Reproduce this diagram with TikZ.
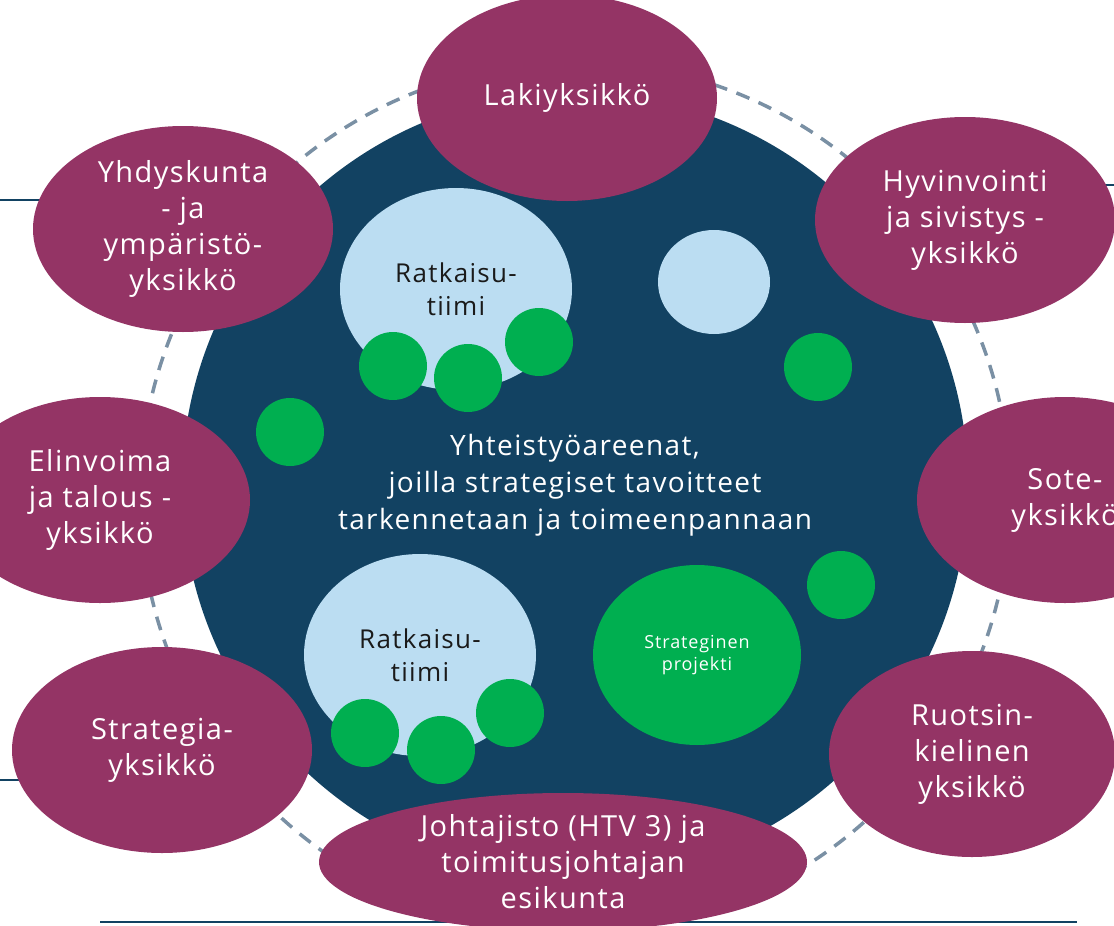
\documentclass[tikz,border=0pt]{standalone}
\usepackage{fontspec}
\setmainfont{Open Sans}[LetterSpace=5]
\usetikzlibrary{shapes.geometric,positioning,backgrounds}
\definecolor{kPlum}{HTML}{943465}
\definecolor{kNavy}{HTML}{124262}
\definecolor{kSky}{HTML}{BBDDF2}
\definecolor{kGreen}{HTML}{00AF50}
\definecolor{kRing}{HTML}{7A90A4}
\definecolor{kInk}{HTML}{1A1A1A}

\begin{document}
\begin{tikzpicture}[x=1pt,y=-1pt,
  unit/.style={ellipse,fill=kPlum,text=white,align=center,inner sep=0pt,
    minimum width=300pt,minimum height=206pt,font=\fontsize{29}{36}\selectfont},
  arena/.style={circle,fill=kNavy,text=white,align=center,inner sep=0pt,
    minimum size=786pt,font=\fontsize{28}{37}\selectfont},
  team/.style={ellipse,fill=kSky,text=kInk,align=center,inner sep=0pt,
    minimum width=232pt,minimum height=202pt,font=\fontsize{26}{33}\selectfont},
  spot/.style={circle,fill=kGreen,inner sep=0pt,minimum size=68pt},
  proj/.style={ellipse,fill=kGreen,text=white,align=center,inner sep=0pt,
    minimum width=208pt,minimum height=180pt,font=\fontsize{18}{22}\selectfont},
  ring/.style={circle,draw=kRing,line width=3.5pt,dash pattern=on 14pt off 10pt,
    minimum size=870pt,inner sep=0pt},
  stub/.style={draw=kNavy,line width=1.8pt}]
  \useasboundingbox (0,0) rectangle (1114,926);
  \node[ring] (ring) at (575,497) {};
  \coordinate (topc) at (567,0);
  \coordinate (lefta) at (0,200);
  \coordinate (leftb) at (0,780);
  \coordinate (righta) at (1114,185);
  \coordinate (bota) at (100,922);
  \coordinate (botb) at (1077,922);
  \node[arena] (arena) at (575,485) {Yhteistyöareenat,\\joilla strategiset tavoitteet\\tarkennetaan ja toimeenpannaan};
  \node[team] (teamA) at (456,289) {Ratkaisu-\\tiimi};
  \node[team,minimum width=112pt,minimum height=104pt] (teamB) at (714,282) {};
  \node[team] (teamC) at (420,655) {Ratkaisu-\\tiimi};
  \node[spot] (sa) at (393,366) {};
  \node[spot] (sb) at (468,378) {};
  \node[spot] (sc) at (539,342) {};
  \node[spot] (sd) at (290,432) {};
  \node[spot] (se) at (818,367) {};
  \node[spot] (sf) at (841,585) {};
  \node[spot] (sg) at (365,733) {};
  \node[spot] (sh) at (441,750) {};
  \node[spot] (si) at (510,713) {};
  \node[proj] (proj) at (697,655) {Strateginen\\projekti};
  \node[unit] (lak) at (567,98) {Lakiyksikkö};
  \node[unit] (hyv) at (965,220) {Hyvinvointi\\ja sivistys -\\yksikkö};
  \node[unit] (yhd) at (183,229) {Yhdyskunta\\- ja\\ympäristö-\\yksikkö};
  \node[unit] (eli) at (100,500) {Elinvoima\\ja talous -\\yksikkö};
  \node[unit,minimum width=296pt] (sote) at (1065,500) {Sote-\\yksikkö};
  \node[unit] (str) at (162,750) {Strategia-\\yksikkö};
  \node[unit,minimum width=286pt] (ruo) at (972,754) {Ruotsin-\\kielinen\\yksikkö};
  \node[unit,minimum width=488pt,minimum height=138pt] (joh) at (563,862) {Johtajisto (HTV 3) ja\\toimitusjohtajan\\esikunta};
  \begin{scope}[on background layer]
    \draw[stub] (topc) -- (topc |- lak.center);
    \draw[stub] (lefta) -- (lefta -| yhd.center);
    \draw[stub] (leftb) -- (leftb -| str.center);
    \draw[stub] (righta) -- (righta -| hyv.center);
    \draw[stub] (bota) -- (botb);
  \end{scope}
\end{tikzpicture}
\end{document}
